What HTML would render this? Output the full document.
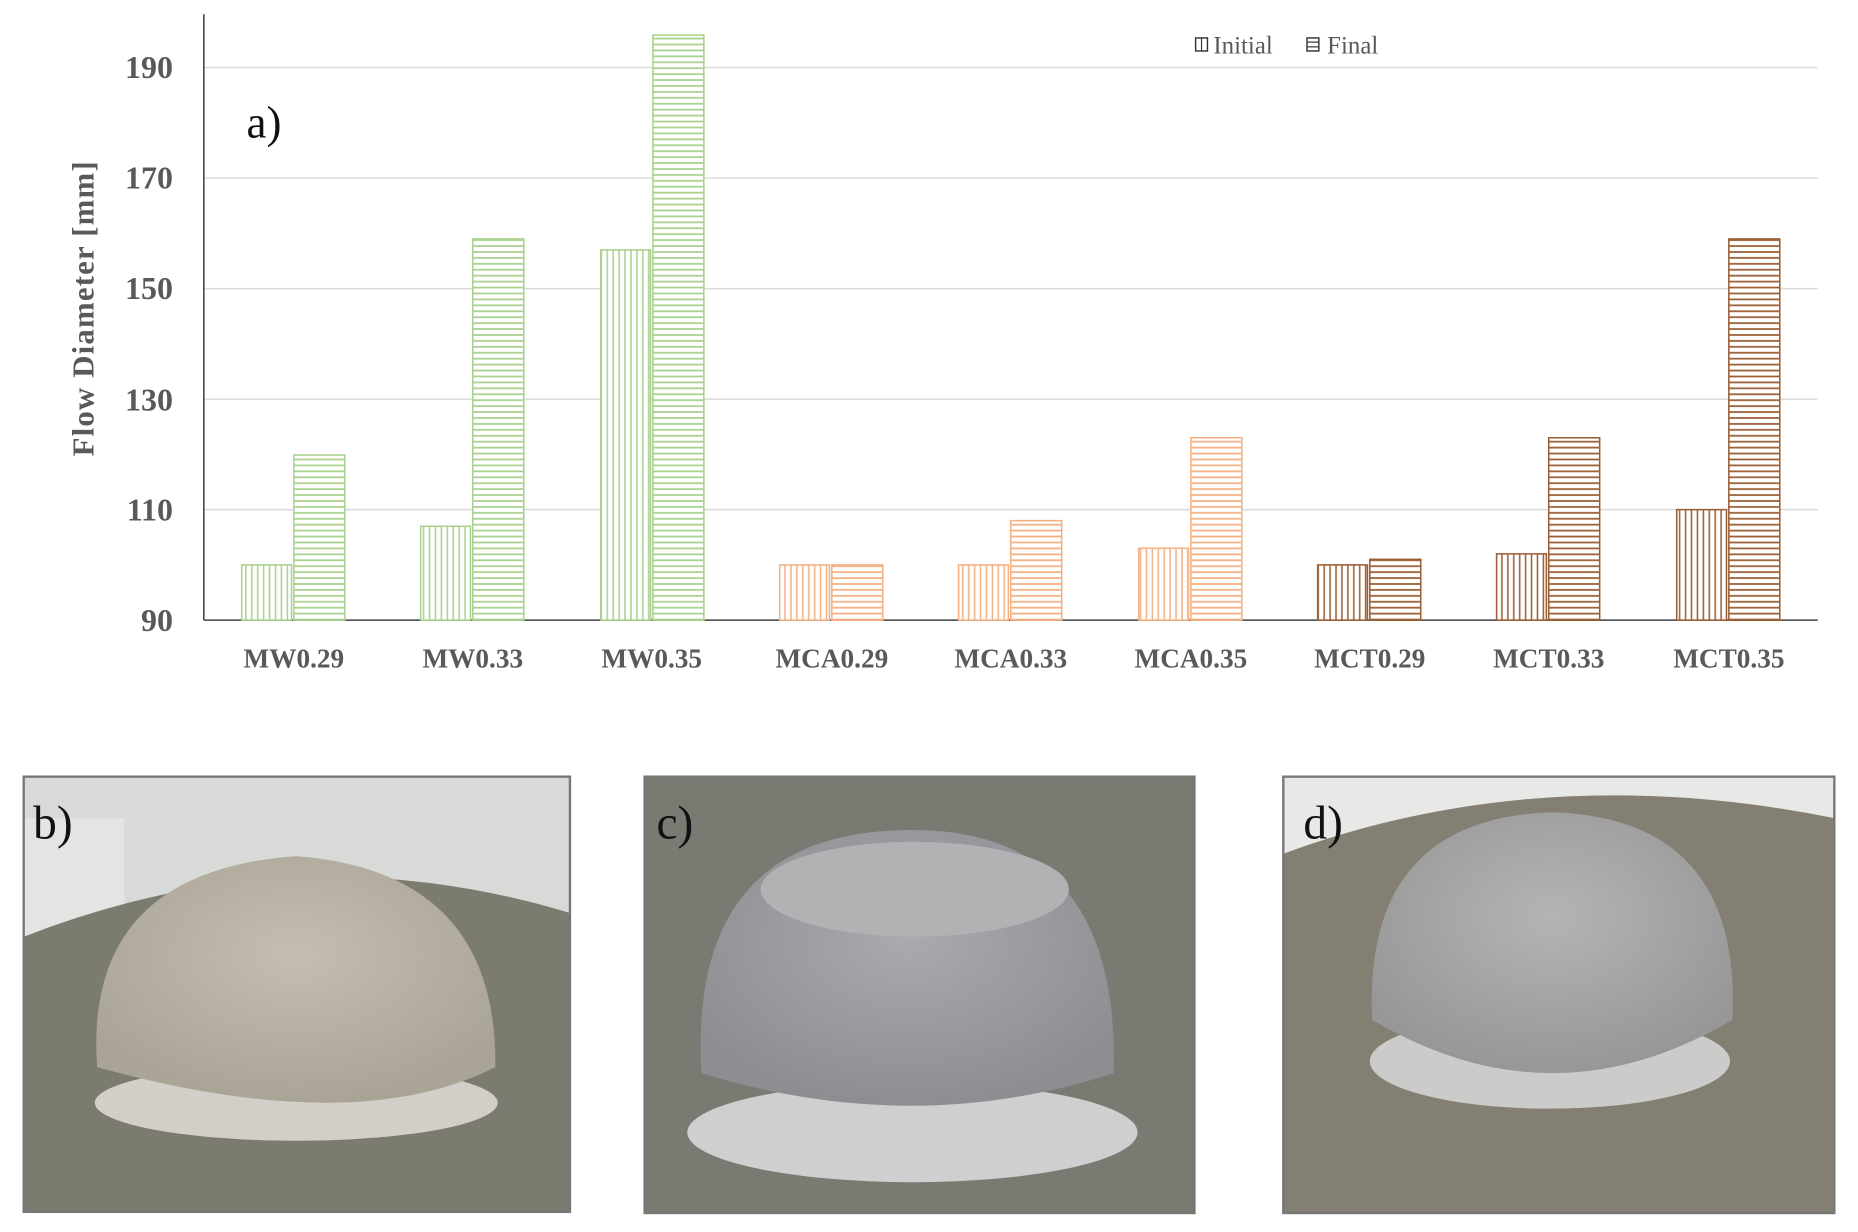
<!DOCTYPE html>
<html><head><meta charset="utf-8"><style>
html,body{margin:0;padding:0;background:#fff;}
svg{display:block;}
text{font-family:"Liberation Serif",serif;}
</style></head><body>
<svg width="1858" height="1232" viewBox="0 0 1568 1039" preserveAspectRatio="none" xmlns="http://www.w3.org/2000/svg">
<defs>
<pattern id="vg" width="5" height="5" patternUnits="userSpaceOnUse"><rect width="5" height="5" fill="#fff"/><line x1="2.5" y1="0" x2="2.5" y2="5" stroke="#a9d18e" stroke-width="1.3"/></pattern>
<pattern id="hg" width="5" height="5" patternUnits="userSpaceOnUse"><rect width="5" height="5" fill="#fff"/><line x1="0" y1="2.5" x2="5" y2="2.5" stroke="#a9d18e" stroke-width="1.5"/></pattern>
<pattern id="vo" width="5" height="5" patternUnits="userSpaceOnUse"><rect width="5" height="5" fill="#fff"/><line x1="2.5" y1="0" x2="2.5" y2="5" stroke="#f4b183" stroke-width="1.3"/></pattern>
<pattern id="ho" width="5" height="5" patternUnits="userSpaceOnUse"><rect width="5" height="5" fill="#fff"/><line x1="0" y1="2.5" x2="5" y2="2.5" stroke="#f4b183" stroke-width="1.5"/></pattern>
<pattern id="vb" width="5" height="5" patternUnits="userSpaceOnUse"><rect width="5" height="5" fill="#fff"/><line x1="2.5" y1="0" x2="2.5" y2="5" stroke="#9c5f35" stroke-width="1.3"/></pattern>
<pattern id="hb" width="5" height="5" patternUnits="userSpaceOnUse"><rect width="5" height="5" fill="#fff"/><line x1="0" y1="2.5" x2="5" y2="2.5" stroke="#9c5f35" stroke-width="1.5"/></pattern>
<radialGradient id="dome1" cx="0.5" cy="0.4" r="0.6"><stop offset="0" stop-color="#c4bdb0"/><stop offset="1" stop-color="#aaa497"/></radialGradient>
<radialGradient id="dome2" cx="0.5" cy="0.4" r="0.6"><stop offset="0" stop-color="#a8aaad"/><stop offset="1" stop-color="#8c8e92"/></radialGradient>
<radialGradient id="dome3" cx="0.5" cy="0.4" r="0.6"><stop offset="0" stop-color="#b4b4b4"/><stop offset="1" stop-color="#979798"/></radialGradient>
</defs>
<g stroke="#d9d9d9" stroke-width="1.2">
<line x1="172" y1="57" x2="1534" y2="57"/>
<line x1="172" y1="150.2" x2="1534" y2="150.2"/>
<line x1="172" y1="243.4" x2="1534" y2="243.4"/>
<line x1="172" y1="336.6" x2="1534" y2="336.6"/>
<line x1="172" y1="429.8" x2="1534" y2="429.8"/>
</g>
<line x1="172" y1="12" x2="172" y2="523" stroke="#404040" stroke-width="1.3"/>
<line x1="172" y1="523" x2="1534" y2="523" stroke="#404040" stroke-width="1.3"/>
<g font-size="27" font-weight="bold" fill="#595959" text-anchor="end">
<text x="146" y="66">190</text><text x="146" y="159">170</text><text x="146" y="252">150</text><text x="146" y="346">130</text><text x="146" y="439">110</text><text x="146" y="532">90</text>
</g>
<text transform="translate(79,260) rotate(-90)" font-size="26" font-weight="bold" fill="#595959" text-anchor="middle" letter-spacing="1">Flow Diameter [mm]</text>
<text x="208" y="116" font-size="38" fill="#111">a)</text>
<rect x="1009" y="32" width="10" height="11" fill="none" stroke="#333" stroke-width="1.2"/><line x1="1014" y1="32" x2="1014" y2="43" stroke="#333"/>
<text x="1024" y="45" font-size="21" fill="#595959">Initial</text>
<rect x="1103" y="32" width="10" height="11" fill="#fff" stroke="#333" stroke-width="1.2"/>
<line x1="1103" y1="35.5" x2="1113" y2="35.5" stroke="#333"/><line x1="1103" y1="39.5" x2="1113" y2="39.5" stroke="#333"/>
<text x="1120" y="45" font-size="21" fill="#595959">Final</text>
<g stroke-width="1.3">
<rect x="204" y="476.4" width="42" height="46.6" fill="url(#vg)" stroke="#a9d18e"/>
<rect x="248" y="383.8" width="43" height="139.2" fill="url(#hg)" stroke="#a9d18e"/>
<rect x="355" y="443.8" width="42" height="79.2" fill="url(#vg)" stroke="#a9d18e"/>
<rect x="399" y="201.5" width="43" height="321.5" fill="url(#hg)" stroke="#a9d18e"/>
<rect x="507" y="210.8" width="42" height="312.2" fill="url(#vg)" stroke="#a9d18e"/>
<rect x="551" y="29.6" width="43" height="493.4" fill="url(#hg)" stroke="#a9d18e"/>
<rect x="658" y="476.4" width="42" height="46.6" fill="url(#vo)" stroke="#f4b183"/>
<rect x="702" y="476.4" width="43" height="46.6" fill="url(#ho)" stroke="#f4b183"/>
<rect x="809" y="476.4" width="42" height="46.6" fill="url(#vo)" stroke="#f4b183"/>
<rect x="853" y="439.1" width="43" height="83.9" fill="url(#ho)" stroke="#f4b183"/>
<rect x="961" y="462.4" width="42" height="60.6" fill="url(#vo)" stroke="#f4b183"/>
<rect x="1005" y="369.2" width="43" height="153.8" fill="url(#ho)" stroke="#f4b183"/>
<rect x="1112" y="476.4" width="42" height="46.6" fill="url(#vb)" stroke="#9c5f35"/>
<rect x="1156" y="471.7" width="43" height="51.3" fill="url(#hb)" stroke="#9c5f35"/>
<rect x="1263" y="467.1" width="42" height="55.9" fill="url(#vb)" stroke="#9c5f35"/>
<rect x="1307" y="369.2" width="43" height="153.8" fill="url(#hb)" stroke="#9c5f35"/>
<rect x="1415" y="429.8" width="42" height="93.2" fill="url(#vb)" stroke="#9c5f35"/>
<rect x="1459" y="201.5" width="43" height="321.5" fill="url(#hb)" stroke="#9c5f35"/>
</g>
<g font-size="23" font-weight="bold" fill="#595959" text-anchor="middle">
<text x="248" y="563">MW0.29</text><text x="399" y="563">MW0.33</text><text x="550" y="563">MW0.35</text>
<text x="702" y="563">MCA0.29</text><text x="853" y="563">MCA0.33</text><text x="1005" y="563">MCA0.35</text>
<text x="1156" y="563">MCT0.29</text><text x="1307" y="563">MCT0.33</text><text x="1459" y="563">MCT0.35</text>
</g>
<g>
<rect x="20" y="655" width="461" height="367" fill="#d8dad8"/>
<rect x="20" y="690" width="85" height="100" fill="#e4e5e3"/>
<path d="M20 790 Q250 700 481 770 L481 1022 L20 1022 Z" fill="#7c7b70"/>
<ellipse cx="250" cy="930" rx="170" ry="32" fill="#d2cfc8"/>
<path d="M82 900 Q70 735 250 722 Q420 735 418 900 Q300 960 82 900 Z" fill="url(#dome1)"/>
<rect x="20" y="655" width="461" height="367" fill="none" stroke="#777" stroke-width="2"/>
<text x="28" y="707" font-size="40" fill="#111">b)</text>
</g>
<g>
<rect x="544" y="655" width="464" height="368" fill="#7b7a72"/>
<ellipse cx="770" cy="955" rx="190" ry="42" fill="#cfcfcf"/>
<path d="M592 905 Q580 700 770 700 Q945 700 940 905 Q770 960 592 905 Z" fill="url(#dome2)"/>
<ellipse cx="772" cy="750" rx="130" ry="40" fill="#b0b2b4"/>
<rect x="544" y="655" width="464" height="368" fill="none" stroke="#777" stroke-width="2"/>
<text x="554" y="707" font-size="40" fill="#111">c)</text>
</g>
<g>
<rect x="1083" y="655" width="465" height="368" fill="#e8e8e6"/>
<path d="M1083 720 Q1300 640 1548 690 L1548 1023 L1083 1023 Z" fill="#837f72"/>
<ellipse cx="1308" cy="895" rx="152" ry="40" fill="#cbcbc9"/>
<path d="M1158 860 Q1150 690 1310 685 Q1470 690 1462 860 Q1310 950 1158 860 Z" fill="url(#dome3)"/>
<rect x="1083" y="655" width="465" height="368" fill="none" stroke="#777" stroke-width="2"/>
<text x="1100" y="707" font-size="40" fill="#111">d)</text>
</g>
</svg>
</body></html>
